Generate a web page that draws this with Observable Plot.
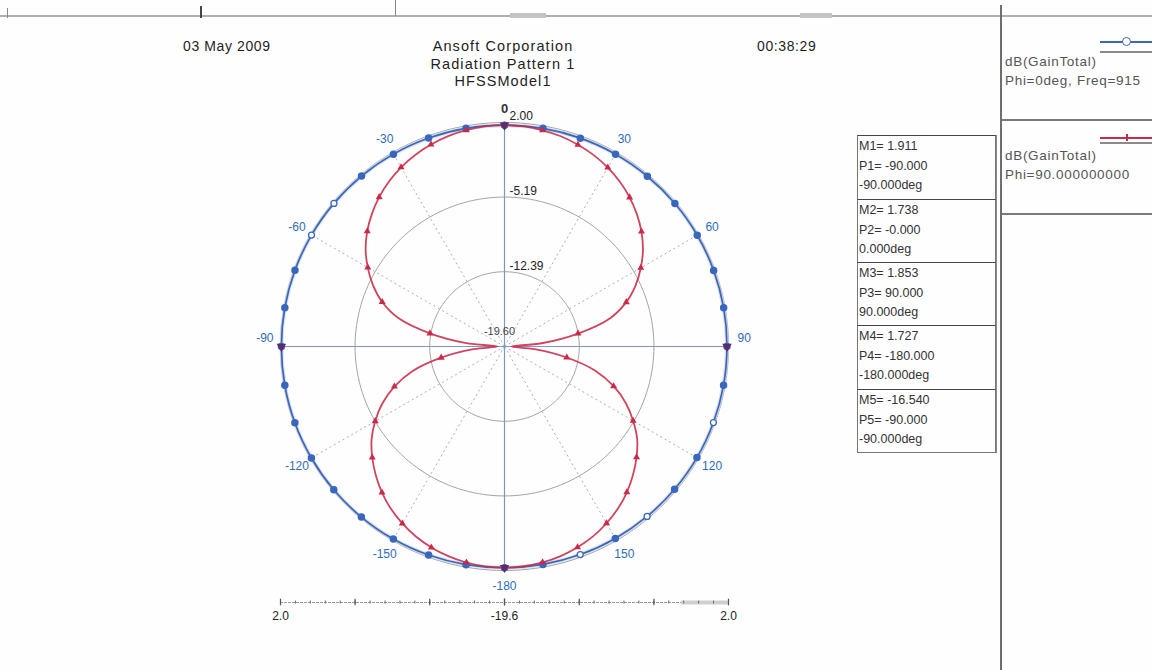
<!DOCTYPE html>
<html><head><meta charset="utf-8">
<script src="https://cdn.jsdelivr.net/npm/d3@7"></script>
<script src="https://cdn.jsdelivr.net/npm/@observablehq/plot@0.6"></script>
<style>
body{margin:0;background:#fff;}
#page{position:relative;width:1152px;height:670px;overflow:hidden;font-family:"Liberation Sans",Arial,sans-serif;background:#fefefe;color:#222;}
.abs{position:absolute;white-space:nowrap;}
.title{font-size:14px;letter-spacing:0.6px;color:#1e1e1e;}
.ctitle{font-size:14.5px;letter-spacing:1.1px;color:#1e1e1e;}
#chart,#scale{position:absolute;left:0;}
#chart{top:0;} #scale{top:590px;}
.mbox{position:absolute;left:857px;width:139px;border:1px solid #777;border-top:1.5px solid #444;box-sizing:border-box;font-size:12.5px;line-height:19.5px;color:#333;padding:1px 0 0 1px;overflow:hidden;}
.leg{position:absolute;left:1005px;font-size:13.5px;letter-spacing:0.7px;line-height:18.5px;color:#555;white-space:nowrap;}
</style></head><body><div id="page">
<div class="abs" style="left:0;top:15px;width:1152px;height:2px;background:#b0b0b0"></div>
<div class="abs" style="left:510px;top:13px;width:36px;height:5px;background:#c4c4c4"></div>
<div class="abs" style="left:800px;top:13px;width:32px;height:5px;background:#c4c4c4"></div>
<div class="abs" style="left:7px;top:8px;width:1px;height:10px;background:#888"></div>
<div class="abs" style="left:200px;top:6px;width:2px;height:12px;background:#444"></div>
<div class="abs" style="left:395px;top:0px;width:1px;height:16px;background:#888"></div>
<div class="abs" style="left:996px;top:135px;width:1px;height:318px;background:#8a8a8a"></div>
<div class="abs" style="left:1000px;top:5px;width:2px;height:665px;background:#6e6e6e"></div>
<div class="abs" style="left:1002px;top:119px;width:150px;height:2px;background:#7a7a7a"></div>
<div class="abs" style="left:1002px;top:213px;width:150px;height:2px;background:#7a7a7a"></div>
<div class="abs title" style="left:183px;top:38px">03 May 2009</div>
<div class="abs ctitle" style="left:393px;top:38px;width:220px;text-align:center;line-height:17.5px">Ansoft Corporation<br>Radiation Pattern 1<br>HFSSModel1</div>
<div class="abs title" style="left:757px;top:38px">00:38:29</div>
<div id="chart"></div>
<div id="scale"></div>
<div id="boxes"></div>
<div id="legend"></div>
</div>
<script>
// Radial range (dB)
const rMin = -19.6, rMax = 2.0;

// Phi = 90deg (red) : theta (deg) and gain (dB)
const redTheta = [-180,-175,-170,-165,-160,-155,-150,-145,-140,-135,-130,-125,-120,-115,-110,-105,-100,-95,
  -90,-85,-80,-75,-70,-65,-60,-55,-50,-45,-40,-35,-30,-25,-20,-15,-10,-5,
  0,5,10,15,20,25,30,35,40,45,50,55,60,65,70,75,80,85,
  90,95,100,105,110,115,120,125,130,135,140,145,150,155,160,165,170,175];
const redGain = [1.73,1.68,1.55,1.33,1.02,0.62,0.10,-0.50,-1.22,-2.05,-2.95,-3.95,-5.20,-6.60,-8.30,-10.40,-13.40,-16.60,
  -18.90,-15.90,-12.30,-9.00,-7.05,-5.60,-4.38,-3.25,-2.32,-1.52,-0.80,-0.18,0.35,0.78,1.12,1.40,1.58,1.70,
  1.74,1.70,1.57,1.39,1.10,0.76,0.32,-0.20,-0.83,-1.55,-2.36,-3.30,-4.42,-5.65,-7.10,-9.05,-12.40,-16.00,
  -18.90,-16.70,-13.50,-10.50,-8.40,-6.70,-5.28,-3.98,-2.98,-2.08,-1.25,-0.52,0.08,0.60,1.00,1.32,1.54,1.67];

// Phi = 0deg (blue)
const blueTheta = [-180,-170,-160,-150,-140,-130,-120,-110,-100,-90,-80,-70,-60,-50,-40,-30,-20,-10,
  0,10,20,30,40,50,60,70,80,90,100,110,120,130,140,150,160,170];
const blueGain = [1.73,1.76,1.80,1.84,1.87,1.89,1.90,1.91,1.91,1.91,1.91,1.90,1.89,1.87,1.85,1.82,1.79,1.76,
  1.74,1.76,1.78,1.81,1.83,1.85,1.86,1.86,1.86,1.85,1.85,1.84,1.83,1.81,1.79,1.77,1.75,1.74];

// Angle tick labels
const angleTicks = [0,30,60,90,120,150,180,-150,-120,-90,-60,-30];
const angleText = ["0","30","60","90","120","150","-180","-150","-120","-90","-60","-30"];

// Radial rings and labels
const ringValues = [2.00,-5.19,-12.39,-19.60];
const ringText = ["2.00","-5.19","-12.39","-19.60"];

// Markers
const markerName = ["M1","M2","M3","M4","M5"];
const markerGain = [1.911,1.738,1.853,1.727,-16.540];
const markerTheta = [-90,0,90,-180,-90];
const markerText = ["-90.000","-0.000","90.000","-180.000","-90.000"];

// Bottom scale labels
const scaleText = ["2.0","-19.6","2.0"];

// Legend (as visible in the panel)
const seriesName = ["dB(GainTotal)","dB(GainTotal)"];
const seriesDesc = ["Phi=0deg, Freq=915","Phi=90.000000000"];

const BLUE = "#3a67bd", RED = "#c92a48";
const norm = g => Math.max(0, (g - rMin) / (rMax - rMin));
const rad = t => t * Math.PI / 180;
const pol = (t, g) => ({x: norm(g) * Math.sin(rad(t)), y: norm(g) * Math.cos(rad(t))});

const redData = redTheta.map((t, i) => ({theta: t, gain: redGain[i], ...pol(t, redGain[i])}));
const blueData = blueTheta.map((t, i) => ({theta: t, gain: blueGain[i], ...pol(t, blueGain[i])}));
const hollow = [-60, -50, 110, 140, 160];

const ringPts = [];
ringValues.filter(v => v > rMin).forEach(v => {
  for (let a = 0; a < 360; a += 2) ringPts.push({ring: v, ...pol(a, v)});
});
const spokes = d3.range(0, 360, 30).map(a => ({a, x2: Math.sin(rad(a)), y2: Math.cos(rad(a))}));
const labels = angleTicks.map((a, i) => ({a, text: angleText[i], x: 1.07 * Math.sin(rad(a)), y: 1.07 * Math.cos(rad(a))}));
const rLabels = ringValues.map((v, i) => ({v, text: ringText[i], x: 0, y: norm(v)}));
const marks = markerName.map((m, i) => ({m, ...pol(markerTheta[i], markerGain[i])}));

const chart = Plot.plot({
  width: 1152, height: 670, margin: 0,
  x: {domain: [-1, 1], range: [280, 728], axis: null},
  y: {domain: [-1, 1], range: [570, 122], axis: null},
  style: {background: "transparent", fontFamily: "Liberation Sans, Arial, sans-serif", fontSize: "12px"},
  marks: [
    Plot.line(ringPts, {x: "x", y: "y", z: "ring", curve: "linear-closed", stroke: "#a4a4a4", strokeWidth: 1}),
    Plot.link(spokes.filter(d => d.a % 90 !== 0), {x1: 0, y1: 0, x2: "x2", y2: "y2", stroke: "#9fb0c8", strokeWidth: 1, strokeDasharray: "2,3"}),
    Plot.link(spokes.filter(d => d.a % 90 === 0), {x1: 0, y1: 0, x2: "x2", y2: "y2", stroke: "#7f98bd", strokeWidth: 1.2}),
    Plot.line(blueData, {x: "x", y: "y", curve: "catmull-rom-closed", stroke: "#cdd5e2", strokeWidth: 4, strokeOpacity: 0.7}),
    Plot.line(blueData, {x: "x", y: "y", curve: "catmull-rom-closed", stroke: BLUE, strokeWidth: 1.7}),
    Plot.line(redData, {x: "x", y: "y", curve: "catmull-rom-closed", stroke: RED, strokeWidth: 1.8, strokeOpacity: 0.88}),
    Plot.dot(blueData.filter(d => !hollow.includes(d.theta)), {x: "x", y: "y", r: 3, fill: BLUE, stroke: BLUE}),
    Plot.dot(blueData.filter(d => hollow.includes(d.theta)), {x: "x", y: "y", r: 3, fill: "white", stroke: BLUE, strokeWidth: 1.3}),
    Plot.dot(redData.filter(d => d.theta % 10 === 0 && Math.abs(d.theta) !== 90), {x: "x", y: "y", r: 2.6, symbol: "triangle", fill: RED}),
    Plot.dot(marks.filter(d => d.m !== "M5"), {x: "x", y: "y", r: 3.5, symbol: "triangle", fill: "#5b2b6e", rotate: 180}),
    Plot.text(labels.filter(d => d.a !== 0 && Math.abs(d.a) !== 90), {x: "x", y: "y", text: "text", fill: "#2f6db5", fontSize: 12}),
    Plot.text(labels.filter(d => Math.abs(d.a) === 90), {x: "x", y: "y", text: "text", fill: "#2f6db5", fontSize: 12, dy: -8}),
    Plot.text(labels.filter(d => d.a === 0), {x: "x", y: "y", text: "text", fill: "#333", fontSize: 13, fontWeight: "bold", dy: 2}),
    Plot.text(rLabels.filter(d => d.v > rMin), {x: "x", y: "y", text: "text", fill: "#222", textAnchor: "start", dx: 5, dy: -6, fontSize: 12}),
    Plot.text(rLabels.filter(d => d.v <= rMin), {x: "x", y: "y", text: "text", fill: "#444", dx: -5, dy: -15, fontSize: 11})
  ]
});
document.getElementById("chart").appendChild(chart);

// Bottom scale (radial axis across the diameter)
const majors = [];
ringValues.forEach(v => { majors.push(-norm(v)); majors.push(norm(v)); });
const minors = d3.range(-1, 1.0001, 1 / 15);
const scaleLab = [-1, 0, 1].map((p, i) => ({p, text: scaleText[i]}));
const scale = Plot.plot({
  width: 1152, height: 34, margin: 0,
  x: {domain: [-1, 1], range: [280, 728], axis: null},
  y: {domain: [0, 1], range: [24, 0], axis: null},
  style: {background: "transparent", fontFamily: "Liberation Sans, Arial, sans-serif", fontSize: "12px"},
  marks: [
    Plot.ruleY([0.5], {x1: -1, x2: 1, stroke: "#9a9a9a", strokeWidth: 1, strokeDasharray: "3,1"}),
    Plot.ruleY([0.5], {x1: 0.79, x2: 1, stroke: "#cfcfcf", strokeWidth: 4}),
    Plot.ruleX(minors, {y1: 0.44, y2: 0.56, stroke: "#666", strokeWidth: 1}),
    Plot.ruleX(majors, {y1: 0.36, y2: 0.64, stroke: "#555", strokeWidth: 1.2}),
    Plot.text(scaleLab, {x: "p", y: () => 0, text: "text", fill: "#222", dy: 2, fontSize: 12})
  ]
});
document.getElementById("scale").appendChild(scale);

// Marker boxes
const tops = [135, 199, 262, 325, 389, 452];
const boxes = document.getElementById("boxes");
markerName.forEach((m, i) => {
  const d = document.createElement("div");
  d.className = "mbox";
  d.style.top = tops[i] + "px";
  d.style.height = (tops[i + 1] - tops[i] + 1) + "px";
  const p = "P" + m.slice(1);
  d.innerHTML = `${m}= ${markerGain[i].toFixed(3)}<br>${p}= ${markerText[i]}<br>${markerText[i].replace("-0.000","0.000")}deg`;
  boxes.appendChild(d);
});

// Legend
const leg = document.getElementById("legend");
const legTop = [53, 147];
const legLine = [41, 137];
const legColor = [BLUE, RED];
seriesName.forEach((s, i) => {
  const t = document.createElement("div");
  t.className = "leg";
  t.style.top = legTop[i] + "px";
  t.innerHTML = s + "<br>" + seriesDesc[i];
  leg.appendChild(t);
  const l = document.createElement("div");
  l.className = "abs";
  l.style.cssText = `left:1100px;top:${legLine[i]}px;width:52px;height:1.5px;background:${legColor[i]}`;
  leg.appendChild(l);
  const g = document.createElement("div");
  g.className = "abs";
  g.style.cssText = `left:1100px;top:${legLine[i] + (i ? 5 : 10)}px;width:52px;height:2px;background:#8a8a8a`;
  leg.appendChild(g);
  const m = document.createElement("div");
  m.className = "abs";
  if (i === 0) m.style.cssText = `left:1122px;top:${legLine[i] - 4}px;width:7px;height:7px;border:1.3px solid ${BLUE};border-radius:50%;background:#fff`;
  else m.style.cssText = `left:1126px;top:${legLine[i] - 3}px;width:1.5px;height:7px;background:${RED}`;
  leg.appendChild(m);
});
</script>
</body></html>
